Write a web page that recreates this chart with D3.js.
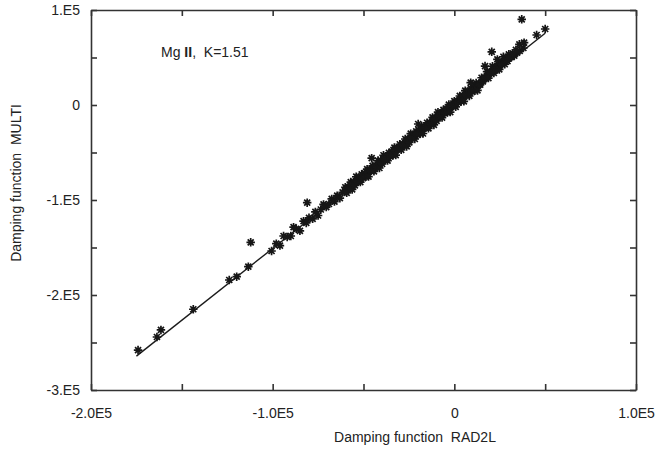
<!DOCTYPE html>
<html>
<head>
<meta charset="utf-8">
<script src="https://cdn.jsdelivr.net/npm/d3@7"></script>
<style>
  body { margin: 0; background: #fff; }
  text { font-family: "Liberation Sans", Arial, sans-serif; fill: #222; }
  .axis path, .axis line { stroke: #333; stroke-width: 1.6; }
  .axis text { font-size: 14px; fill: #222; }
</style>
</head>
<body>
<script>

// values in units of 1000 (x: RAD2L, y: MULTI)
var lowPts = [
  [-174.1, -258.0], [-163.7, -244.2], [-161.5, -236.8], [-143.7, -215.0],
  [-123.9, -184.2], [-119.8, -180.7], [-113.4, -170.2], [-112.1, -144.5],
  [-100.6, -153.7], [-81.0, -102.8], [-45.5, -56.0], [-19.9, -20.0]
];

var bandTail = [
  [-98, -146.0], [-96, -148.0], [-94, -137.9], [-92, -138.9], [-90, -137.9],
  [-88.5, -128.6], [-87, -130.4], [-85, -132.4], [-83, -122.3], [-81.5, -124.1],
  [-80, -118.8], [-78, -119.8], [-76.5, -112.5], [-75, -116.3], [-73.5, -110.0],
  [-72, -104.7], [-70.5, -107.5], [-69, -104.2], [-67.5, -98.9], [-66, -101.7],
  [-64.5, -95.4], [-63, -98.1], [-61.5, -91.9]
];

var bandUpper = [
  [-60, -86.6], [-58.5, -86.3], [-57, -81.1], [-55.5, -80.8], [-54, -75.5],
  [-52.5, -77.3], [-51, -73.0], [-49.5, -71.7], [-48, -67.5], [-46.5, -69.2],
  [-45, -64.0], [-43.5, -63.7], [-42, -58.4], [-40.5, -58.2], [-39, -52.9],
  [-37.5, -54.6], [-36, -50.4], [-34.5, -49.1], [-33, -44.8], [-31.5, -46.6],
  [-30, -41.3], [-28.5, -41.0], [-27, -35.8], [-25.5, -35.5], [-24, -30.2],
  [-22.5, -32.0], [-21, -27.7], [-19.5, -26.4], [-18, -22.2], [-16.5, -23.9],
  [-15, -18.7], [-13.5, -18.4], [-12, -13.1], [-10.5, -12.9], [-9, -7.6],
  [-7.5, -9.3], [-6, -5.1], [-4.5, -3.8], [-3, 0.5], [-1.5, -1.3],
  [0, 4.0], [1.5, 4.3], [3, 9.5], [4.5, 9.8], [6, 15.1],
  [7.5, 13.3], [9, 17.6], [10.5, 18.9], [12, 23.1], [13.5, 21.4],
  [15, 28.7], [16.5, 28.9], [18, 35.2], [19.5, 34.4], [21, 40.7],
  [22.5, 39.0], [24, 43.2], [25.5, 44.5], [27, 50.8], [28.5, 48.0],
  [30, 53.3], [31.5, 50.5], [33, 52.0], [34.5, 55.0], [36, 57.0], [38, 60.0]
];

var bandMiddle = [
  [-59.6, -89.0], [-58.1, -86.7], [-56.6, -84.0], [-55.1, -82.2], [-53.6, -80.4],
  [-52.1, -77.7], [-50.6, -75.4], [-49.1, -73.6], [-47.6, -70.9], [-46.1, -68.6],
  [-44.6, -66.3], [-43.1, -64.1], [-41.6, -61.8], [-40.1, -59.6], [-38.6, -57.3],
  [-37.1, -55.0], [-35.6, -52.8], [-34.1, -50.5], [-32.6, -48.2], [-31.1, -46.0],
  [-29.6, -43.7], [-28.1, -41.4], [-26.6, -39.2], [-25.1, -36.9], [-23.6, -34.6],
  [-22.1, -32.4], [-20.6, -30.1], [-19.1, -27.8], [-17.6, -25.6], [-16.1, -23.3],
  [-14.6, -21.0], [-13.1, -18.8], [-11.6, -16.5], [-10.1, -14.3], [-8.6, -12.0],
  [-7.1, -9.7], [-5.6, -7.5], [-4.1, -5.2], [-2.6, -2.9], [-1.1, -0.7],
  [0.4, 1.6], [1.9, 3.9], [3.4, 6.1], [4.9, 8.4], [6.4, 10.7],
  [7.9, 12.9], [9.4, 15.2], [10.9, 17.5], [12.4, 19.7], [13.9, 22.5],
  [15.4, 26.3], [16.9, 28.5], [18.4, 31.3], [19.9, 33.5], [21.4, 36.3],
  [22.9, 38.6], [24.4, 40.8], [25.9, 43.6], [27.4, 45.9], [28.9, 48.1],
  [30.4, 50.4], [31.9, 52.2]
];

var bandLower = [
  [-59.25, -92.5], [-57.75, -88.2], [-56.25, -88.9], [-54.75, -84.7], [-53.25, -80.4],
  [-51.75, -81.1], [-50.25, -76.9], [-48.75, -75.6], [-47.25, -75.3], [-45.75, -69.1],
  [-44.25, -69.8], [-42.75, -65.6], [-41.25, -66.3], [-39.75, -62.0], [-38.25, -57.8],
  [-36.75, -58.5], [-35.25, -54.2], [-33.75, -53.0], [-32.25, -52.7], [-30.75, -46.4],
  [-29.25, -47.2], [-27.75, -42.9], [-26.25, -43.6], [-24.75, -39.4], [-23.25, -35.1],
  [-21.75, -35.8], [-20.25, -31.6], [-18.75, -30.3], [-17.25, -30.0], [-15.75, -23.8],
  [-14.25, -24.5], [-12.75, -20.3], [-11.25, -21.0], [-9.75, -16.7], [-8.25, -12.5],
  [-6.75, -13.2], [-5.25, -8.9], [-3.75, -7.7], [-2.25, -7.4], [-0.75, -1.1],
  [0.75, -1.9], [2.25, 2.4], [3.75, 3.7], [5.25, 3.9], [6.75, 10.2],
  [8.25, 9.5], [9.75, 13.7], [11.25, 15.0], [12.75, 15.3], [14.25, 21.5],
  [15.75, 24.8], [17.25, 28.0], [18.75, 28.3], [20.25, 33.6], [21.75, 33.8],
  [23.25, 37.1], [24.75, 37.4], [26.25, 42.6], [27.75, 42.9], [29.25, 46.2]
];

var highPts = [
  [9.0, 23.5], [16.9, 41.0], [20.6, 56.0], [23.7, 48.0], [29.7, 49.0],
  [32.1, 54.4], [33.9, 58.0], [35.8, 63.9], [38.4, 65.6], [37.1, 90.2],
  [45.3, 73.7], [50.0, 80.0]
];

// fitted line MULTI = K * RAD2L
var fitX = [-175, 50];
var fitY = [-264.3, 75.5];

var xTicks = [-200, -150, -100, -50, 0, 50, 100];
var xTickLabels = {"-200": "-2.0E5", "-100": "-1.0E5", "0": "0", "100": "1.0E5"};
var yTicks = [100, 50, 0, -50, -100, -150, -200, -250, -300];
var yTickLabels = {"100": "1.E5", "0": "0", "-100": "-1.E5", "-200": "-2.E5", "-300": "-3.E5"};

var W = 662, H = 450,
    margin = {top: 10, right: 26, bottom: 60, left: 91},
    width = W - margin.left - margin.right,
    height = H - margin.top - margin.bottom;

var svg = d3.select("body").append("svg")
    .attr("width", W)
    .attr("height", H);

var g = svg.append("g")
    .attr("transform", "translate(" + margin.left + "," + margin.top + ")");

var x = d3.scaleLinear().domain([-200, 100]).range([0, width]);
var y = d3.scaleLinear().domain([-300, 100]).range([height, 0]);

// axes with inward ticks on all four sides
g.append("g")
    .attr("class", "axis")
    .attr("transform", "translate(0," + height + ")")
    .call(d3.axisBottom(x).tickValues(xTicks).tickSizeInner(-6).tickSizeOuter(0).tickPadding(18)
        .tickFormat(function (d) { return xTickLabels[d] || ""; }));

g.append("g")
    .attr("class", "axis")
    .call(d3.axisTop(x).tickValues(xTicks).tickSizeInner(-6).tickSizeOuter(0)
        .tickFormat(""));

g.append("g")
    .attr("class", "axis")
    .call(d3.axisLeft(y).tickValues(yTicks).tickSizeInner(-6).tickSizeOuter(0).tickPadding(11)
        .tickFormat(function (d) { return yTickLabels[d] || ""; }));

g.append("g")
    .attr("class", "axis")
    .attr("transform", "translate(" + width + ",0)")
    .call(d3.axisRight(y).tickValues(yTicks).tickSizeInner(-6).tickSizeOuter(0)
        .tickFormat(""));

// fitted line
var line = d3.line()
    .x(function (d) { return x(d[0]); })
    .y(function (d) { return y(d[1]); });

g.append("path")
    .datum(d3.zip(fitX, fitY))
    .attr("d", line)
    .attr("fill", "none")
    .attr("stroke", "#1a1a1a")
    .attr("stroke-width", 1.4);

// asterisk marker (4 strokes, 8 arms)
var star = {
  draw: function (ctx, size) {
    var r = Math.sqrt(size) / 2, k = r * 0.7071;
    ctx.moveTo(-r, 0); ctx.lineTo(r, 0);
    ctx.moveTo(0, -r); ctx.lineTo(0, r);
    ctx.moveTo(-k, -k); ctx.lineTo(k, k);
    ctx.moveTo(-k, k); ctx.lineTo(k, -k);
  }
};
var symbol = d3.symbol().type(star).size(72);

var allPts = lowPts.concat(bandTail, bandUpper, bandMiddle, bandLower, highPts);

g.selectAll(".pt")
    .data(allPts)
    .enter().append("path")
    .attr("class", "pt")
    .attr("transform", function (d) { return "translate(" + x(d[0]) + "," + y(d[1]) + ")"; })
    .attr("d", symbol)
    .attr("fill", "none")
    .attr("stroke", "#161616")
    .attr("stroke-width", 1.7);

// axis titles
svg.append("text")
    .attr("x", 415)
    .attr("y", 442)
    .attr("text-anchor", "middle")
    .style("font-size", "14px")
    .style("white-space", "pre")
    .text("Damping function  RAD2L");

svg.append("text")
    .attr("transform", "translate(21,183) rotate(-90)")
    .attr("text-anchor", "middle")
    .style("font-size", "14px")
    .style("white-space", "pre")
    .text("Damping function  MULTI");

// annotation
var note = svg.append("text")
    .attr("x", 161)
    .attr("y", 57)
    .style("font-size", "14px")
    .style("white-space", "pre");
note.append("tspan").text("Mg ");
note.append("tspan").style("font-weight", "bold").text("II");
note.append("tspan").text(",  K=1.51");

</script>
</body>
</html>
